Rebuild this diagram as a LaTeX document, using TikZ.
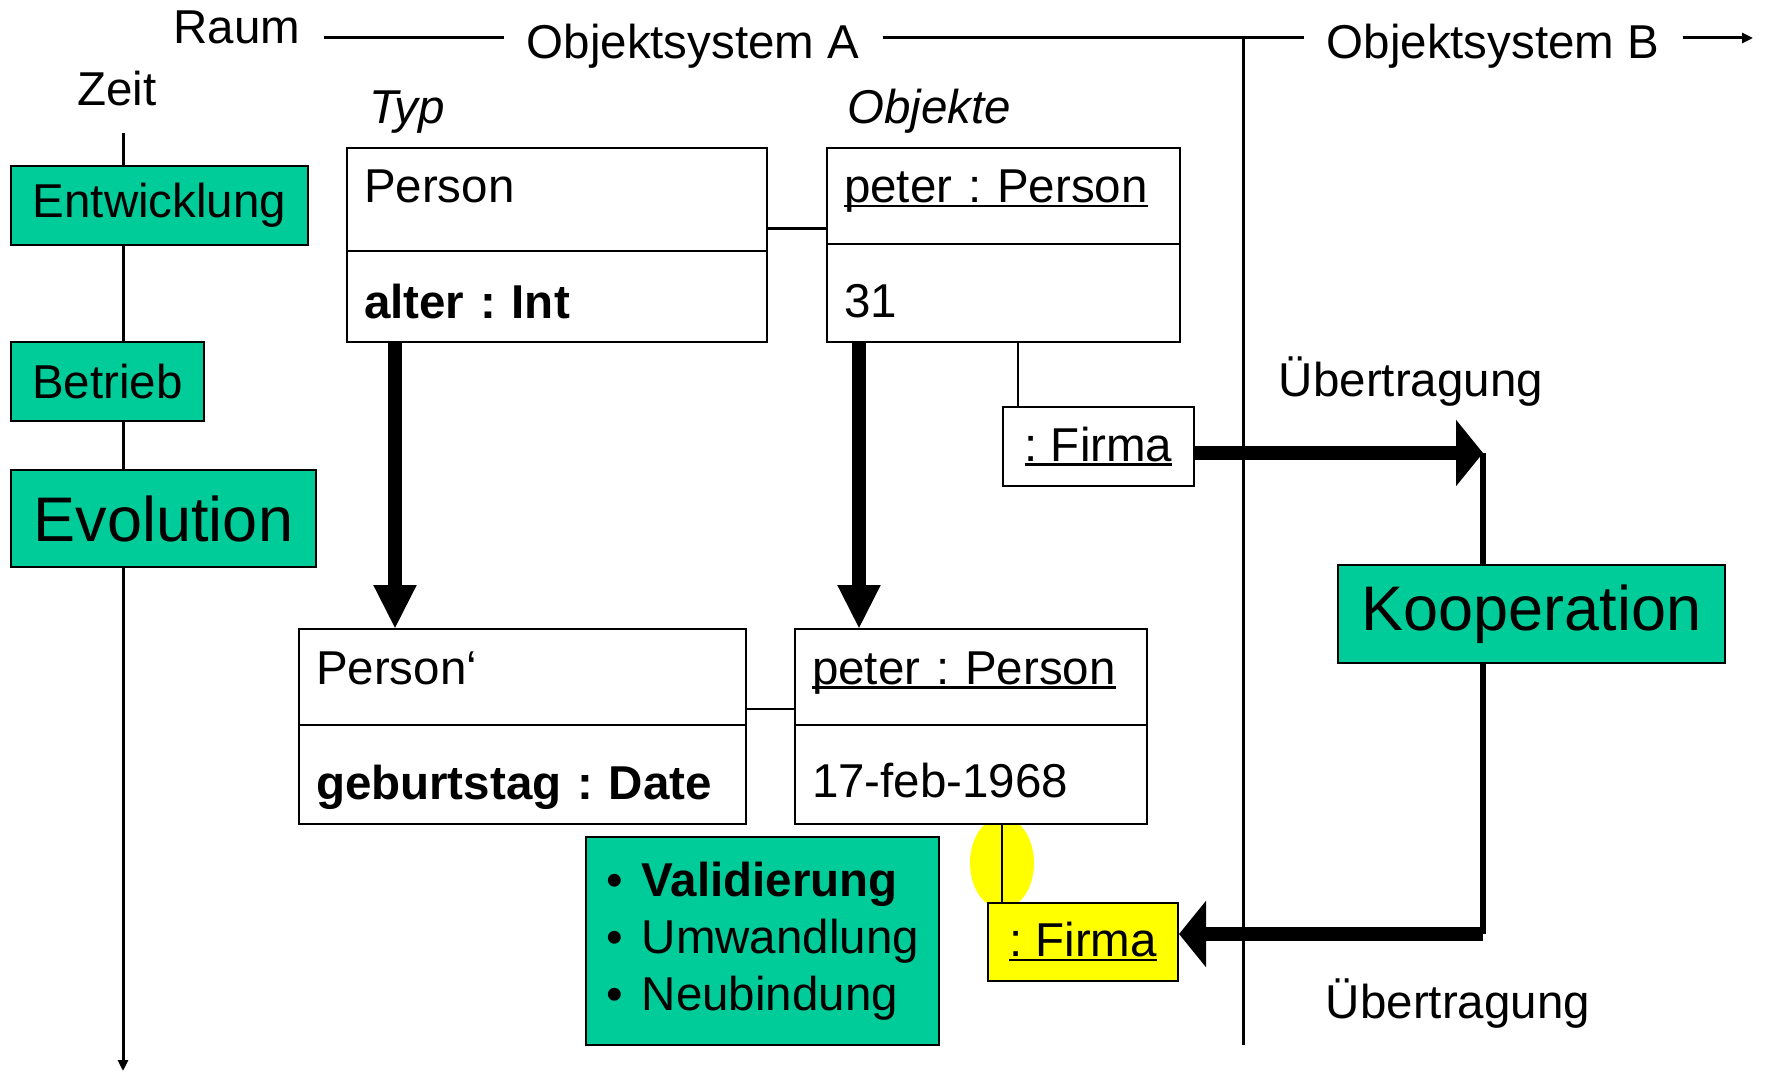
\documentclass[tikz,border=0pt]{standalone}
\usepackage{fontspec}
\setmainfont{Liberation Sans}
\usetikzlibrary{arrows.meta,positioning}
\definecolor{koop}{HTML}{00CC99}
\definecolor{hiyel}{HTML}{FFFF00}
\newcommand{\fs}{\fontsize{47.5pt}{57pt}\selectfont}
\newcommand{\fl}{\fontsize{63pt}{75pt}\selectfont}
\newcommand{\uln}[1]{\setbox0=\hbox{#1}\rlap{\rule[-4.5pt]{\wd0}{2.5pt}}\box0}
\frenchspacing
\tikzset{
  txt/.style={font=\fs,inner sep=0pt},
  axis/.style={line width=3pt},
  link/.style={line width=2.5pt},
  comp/.style={draw,line width=2pt,fill=white,inner xsep=17pt,inner ysep=0pt,outer sep=0pt,align=left,font=\fs},
  fbox/.style={draw,line width=2pt,minimum width=191pt,minimum height=79pt,inner sep=0pt,anchor=north west,font=\fs},
  gbox/.style={draw,line width=2pt,fill=koop,inner sep=0pt,outer sep=0pt,anchor=north west,font=\fs},
  fat/.style={line width=14pt},
  down/.style={fat,-{Triangle[length=44pt,width=40pt]}},
  pass/.style={fat,-{Triangle[length=27pt,width=65pt]}},
  small/.style={-{Triangle[length=11pt,width=10pt]}},
}
\begin{document}
\begin{tikzpicture}[x=1pt,y=-1pt]
\useasboundingbox (0,0) rectangle (1768,1075);
\coordinate (topline) at (0,38);
\coordinate (tTop) at (123,133);
\coordinate (tEnd) at (123,1071);
\coordinate (sepTop) at (1243,38);
\coordinate (sepBot) at (1243,1045);
\coordinate (turnA) at (1483,453);
\coordinate (turnB) at (1483,934);
\coordinate (spaceEnd) at (1753,38);
\draw[axis,small] (tTop) -- (tEnd);
\draw[axis] (sepTop) -- (sepBot);
\draw[line width=6pt] (turnA) -- (turnB);
\fill[hiyel] (1002,863) ellipse [x radius=32pt,y radius=46pt];

\node[txt,inner xsep=23pt,anchor=base] (raum) at (237,44) {Raum};
\node[txt,inner xsep=23pt,anchor=base] (sysA) at (693,59) {Objektsystem A};
\node[txt,inner xsep=23pt,anchor=base] (sysB) at (1493,59) {Objektsystem B};
\node[txt,anchor=base] (zeit) at (117,106) {Zeit};
\node[txt,anchor=base,font=\fs\itshape] (typ) at (407,124) {Typ};
\node[txt,anchor=base,font=\fs\itshape] (obj) at (929,124) {Objekte};

\node[gbox,minimum width=297pt,minimum height=79pt] (ent) at (11,166) {Entwicklung};
\node[gbox,minimum width=193pt,minimum height=79pt,below right=97pt and 0pt of ent.south west] (betr) {Betrieb};
\node[gbox,minimum width=305pt,minimum height=97pt,font=\fl,below right=49pt and 0pt of betr.south west] (evo) {Evolution};

\node[comp,text width=386pt,text height=55pt,text depth=48pt,anchor=north west] (hdrA) at (347,148) {Person};
\node[comp,text width=386pt,text height=67pt,text depth=24pt,below=0pt of hdrA] (attA) {\textbf{alter : Int}};
\node[comp,text width=319pt,text height=55pt,text depth=41pt,anchor=north west] (objA) at (827,148) {\uln{peter : Person}};
\node[comp,text width=319pt,text height=73pt,text depth=25pt,below=0pt of objA] (valA) {31};
\node[comp,text width=413pt,text height=55pt,text depth=41pt,anchor=north west] (hdrB) at (299,629) {Person‘};
\node[comp,text width=413pt,text height=74pt,text depth=25pt,below=0pt of hdrB] (attB) {\textbf{geburtstag : Date}};
\node[comp,text width=318pt,text height=55pt,text depth=41pt,anchor=north west] (objB) at (795,629) {\uln{peter : Person}};
\node[comp,text width=318pt,text height=72pt,text depth=27pt,below=0pt of objB] (valB) {17-feb-1968};

\node[fbox,fill=white] (firmaA) at (1002,406) {\uln{: Firma}};
\node[fbox,fill=hiyel,minimum width=190pt,minimum height=78pt] (firmaB) at (987,902) {\uln{: Firma}};
\node[gbox,minimum width=387pt,minimum height=98pt,font=\fl] (koop) at (1338,565) {Kooperation};
\node[gbox,minimum width=353pt,minimum height=208pt,align=left] (steps) at (586,837)
  {\textbullet\hspace{19pt}\textbf{Validierung}\\\textbullet\hspace{19pt}Umwandlung\\\textbullet\hspace{19pt}Neubindung};
\node[txt,anchor=base] (passA) at (1411,396) {Übertragung};
\node[txt,anchor=base] (passB) at (1458,1018) {Übertragung};

\draw[axis] (raum.east |- topline) -- (sysA.west |- topline);
\draw[axis] (sysA.east |- topline) -- (sysB.west |- topline);
\draw[axis,small] (sysB.east |- topline) -- (spaceEnd);
\draw[link] ([yshift=-29pt]hdrA.east) -- ([yshift=-29pt]hdrA.east -| objA.west);
\draw[link] ([yshift=-32pt]hdrB.east) -- ([yshift=-32pt]hdrB.east -| objB.west);
\draw[link] ([xshift=16pt]firmaA.north west) -- ([xshift=16pt]firmaA.north west |- valA.south);
\draw[link] ([xshift=15pt]firmaB.north west) -- ([xshift=15pt]firmaB.north west |- valB.south);
\draw[down] ([xshift=48pt]attA.south west) -- ([xshift=48pt]attA.south west |- hdrB.north);
\draw[down] ([xshift=32pt]valA.south west) -- ([xshift=32pt]valA.south west |- objB.north);
\draw[pass] (firmaA.east |- turnA) -- (turnA);
\draw[pass] (turnB) -- (firmaB.east |- turnB);
\end{tikzpicture}
\end{document}
